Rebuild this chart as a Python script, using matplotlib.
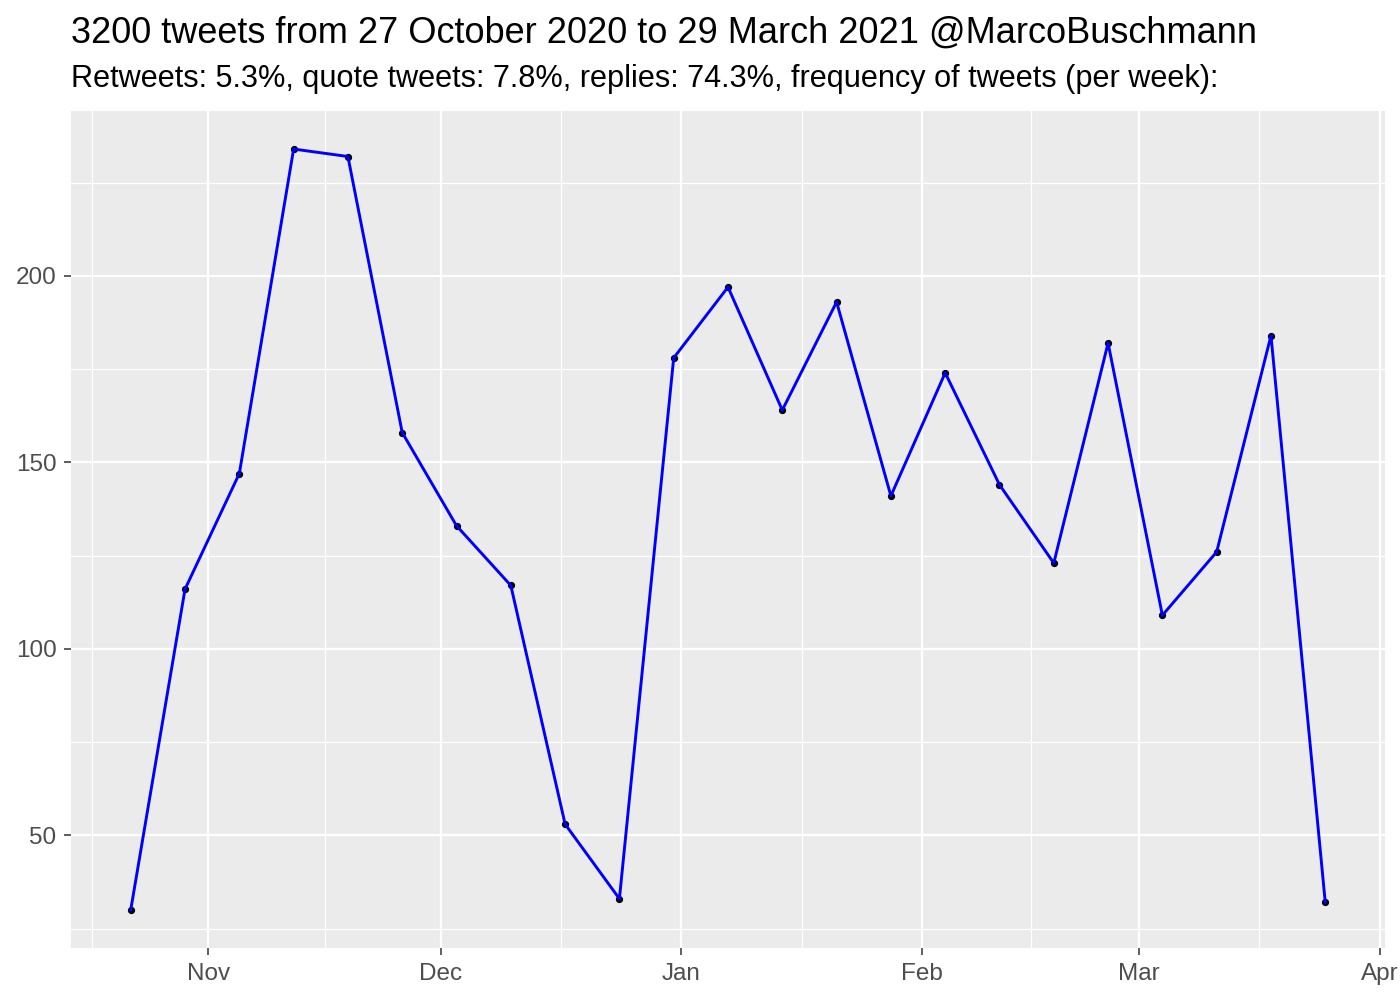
import numpy as np
import pandas as pd
import matplotlib
matplotlib.use("Agg")
from matplotlib import pyplot as plt
import matplotlib.dates as mdates

# weekly tweet counts
weeks = pd.date_range("2020-10-22", periods=23, freq="7D")
counts = [30, 116, 147, 234, 232, 158, 133, 117, 53, 33, 178, 197,
          164, 193, 141, 174, 144, 123, 182, 109, 126, 184, 32]

month_ticks = pd.to_datetime(["2020-11-01", "2020-12-01", "2021-01-01",
                              "2021-02-01", "2021-03-01", "2021-04-01"])
month_labels = ["Nov", "Dec", "Jan", "Feb", "Mar", "Apr"]
y_ticks = [50, 100, 150, 200]
y_minor = [25, 75, 125, 175, 225]

title = "3200 tweets from 27 October 2020 to 29 March 2021 @MarcoBuschmann"
subtitle = "Retweets: 5.3%, quote tweets: 7.8%, replies: 74.3%, frequency of tweets (per week):"

plt.rcParams['font.family'] = ['Liberation Sans', 'DejaVu Sans']

fig = plt.figure(figsize=(14, 10), dpi=100)
ax = fig.add_axes([71 / 1400, 52 / 1000, (1385 - 71) / 1400, (948 - 111) / 1000])
ax.set_facecolor("#EBEBEB")
for s in ax.spines.values():
    s.set_visible(False)

x = mdates.date2num(weeks)
ax.plot(x, counts, "o", color="black", markersize=4.2, zorder=3)
ax.plot(x, counts, "-", color="blue", linewidth=2.1, zorder=4)

# ggplot style expansion of 5%
xr = x[-1] - x[0]
ax.set_xlim(x[0] - 0.05 * xr, x[-1] + 0.05 * xr)
yr = max(counts) - min(counts)
ax.set_ylim(min(counts) - 0.05 * yr, max(counts) + 0.05 * yr)

mt = mdates.date2num(month_ticks)
# minor breaks halfway between months, including one before the first
prev = mt[0] - (mt[1] - mt[0])
all_major = np.concatenate([[prev], mt])
x_minor = (all_major[:-1] + all_major[1:]) / 2

ax.set_xticks(mt)
ax.set_xticklabels(month_labels)
ax.set_xticks(x_minor, minor=True)
ax.set_yticks(y_ticks)
ax.set_yticks(y_minor, minor=True)

ax.grid(which="major", color="white", linewidth=1.6)
ax.grid(which="minor", color="white", linewidth=0.9)
ax.set_axisbelow(True)

ax.tick_params(which="major", length=5, width=1.1, color="#333333",
               labelsize=17.5, labelcolor="#4D4D4D", pad=5.5)
ax.tick_params(which="minor", length=0)

fig.text(71 / 1400, 1 - 43 / 1000, title, fontsize=26, ha="left", va="baseline")
fig.text(71 / 1400, 1 - 87 / 1000, subtitle, fontsize=22.1, ha="left", va="baseline")

fig.savefig("out.png", dpi=100)
